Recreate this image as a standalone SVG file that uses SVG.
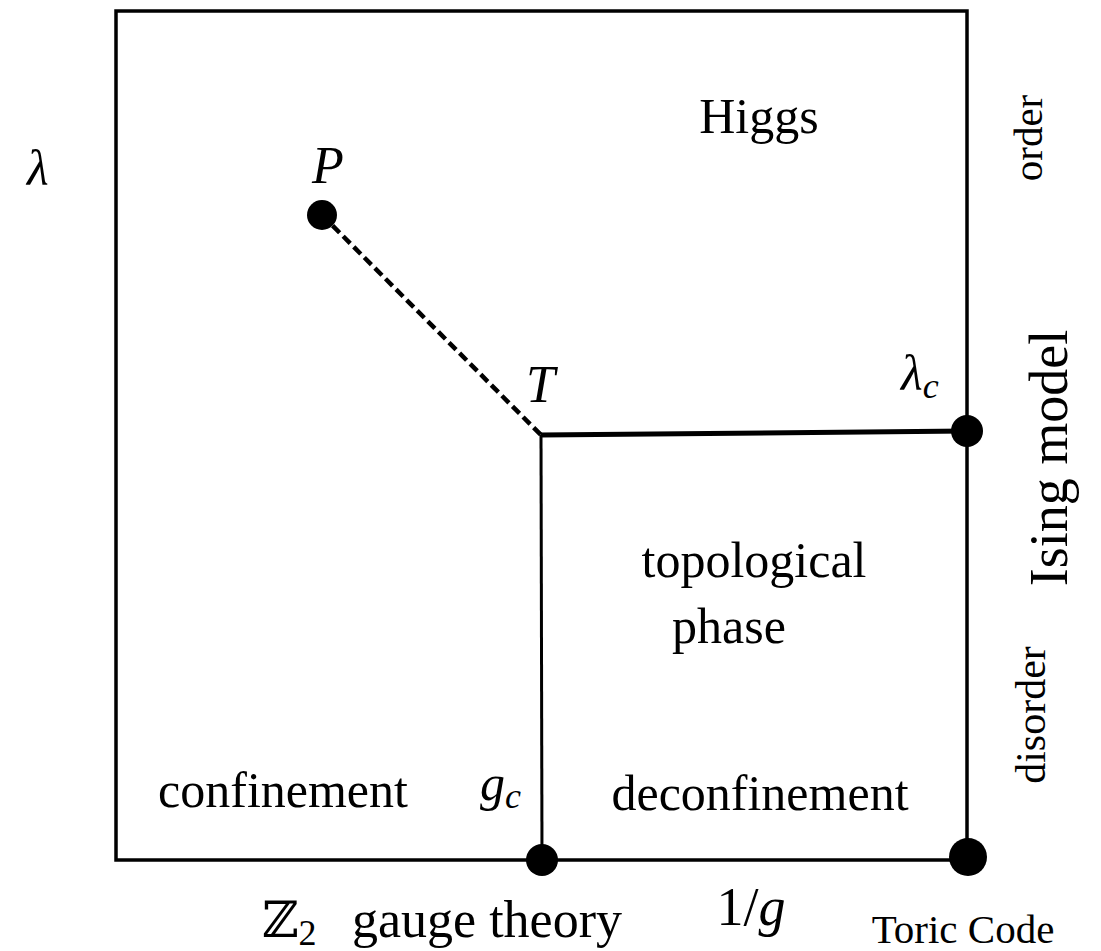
<svg xmlns="http://www.w3.org/2000/svg" width="1101" height="951" viewBox="0 0 1101 951">
<style>
.t{font-family:"Liberation Serif","DejaVu Serif",serif;fill:#000;}
.i{font-style:italic;}
.ln{stroke:#000;fill:none;}
.m{font-size:50px;text-anchor:middle;}
</style>
<rect width="1101" height="951" fill="#fff"/>
<g id="frame"><rect x="116" y="11" width="851" height="849" class="ln" stroke-width="3.5"/></g>
<g id="connectors">
<line x1="322" y1="215" x2="541" y2="435" class="ln" stroke-width="4.5" stroke-dasharray="10,5"/>
<line x1="541" y1="435" x2="967" y2="431" class="ln" stroke-width="5"/>
<line x1="541" y1="435" x2="542" y2="860" class="ln" stroke-width="3"/>
</g>
<g id="node-P"><circle cx="322" cy="215" r="15"/><text class="t i" x="312" y="183" font-size="52">P</text></g>
<g id="node-T"><text class="t i" x="526" y="402" font-size="52">T</text></g>
<g id="node-lc"><circle cx="967" cy="431" r="16"/><text class="t i" x="901" y="390" font-size="50">λ<tspan font-size="36" dy="8">c</tspan></text></g>
<g id="node-gc"><circle cx="542" cy="860" r="16"/><text class="t i" x="480" y="800" font-size="50">g<tspan font-size="36" dy="8">c</tspan></text></g>
<g id="node-toric"><circle cx="968" cy="857" r="19"/><text class="t" x="963" y="943" font-size="41" text-anchor="middle">Toric Code</text></g>
<g id="labels">
<text class="t i" x="27" y="185" font-size="50">λ</text>
<text class="t m" x="759" y="133">Higgs</text>
<text class="t m" x="754" y="577">topological</text>
<text class="t m" x="729" y="643">phase</text>
<text class="t m" x="283" y="807">confinement</text>
<text class="t m" x="760" y="810">deconfinement</text>
<text class="t" x="262" y="937" font-size="50">ℤ<tspan font-size="36" dy="8">2</tspan></text>
<text class="t" x="352" y="937" font-size="52">gauge theory</text>
<text class="t" x="751" y="925" font-size="54" text-anchor="middle">1/<tspan class="i">g</tspan></text>
<text class="t" font-size="41" text-anchor="middle" transform="translate(1042,138) rotate(-90)">order</text>
<text class="t" font-size="54" text-anchor="middle" transform="translate(1067,458) rotate(-90)">Ising model</text>
<text class="t" font-size="42" text-anchor="middle" transform="translate(1045,715) rotate(-90)">disorder</text>
</g>
</svg>
